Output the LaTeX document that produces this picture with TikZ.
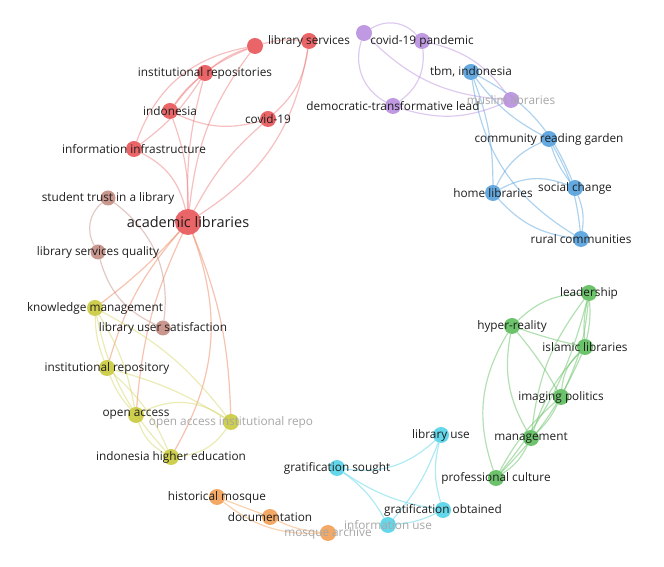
\documentclass[tikz,border=0pt]{standalone}
\usepackage{fontspec}
\setmainfont{Open Sans}
\usetikzlibrary{positioning}
\pgfdeclarelayer{background}
\pgfsetlayers{background,main}

\definecolor{redc}{RGB}{232,88,90}
\definecolor{brownc}{RGB}{196,142,132}
\definecolor{yelc}{RGB}{202,202,64}
\definecolor{purc}{RGB}{186,144,222}
\definecolor{bluec}{RGB}{88,162,222}
\definecolor{greenc}{RGB}{96,190,96}
\definecolor{cyanc}{RGB}{88,212,232}
\definecolor{orac}{RGB}{242,162,88}
\definecolor{txt}{RGB}{30,30,30}

\tikzset{
  vnode/.style={circle, inner sep=0pt, minimum size=16pt, fill opacity=0.92, text opacity=1},
  lbl/.style={font=\fontsize{11.8}{13}\selectfont, text=txt, inner sep=0pt},
  dim/.style={lbl, text=black!35},
  redn/.style={vnode, fill=redc},
  brownn/.style={vnode, fill=brownc},
  yeln/.style={vnode, fill=yelc},
  purn/.style={vnode, fill=purc},
  bluen/.style={vnode, fill=bluec},
  greenn/.style={vnode, fill=greenc},
  cyann/.style={vnode, fill=cyanc},
  oran/.style={vnode, fill=orac},
  link/.style={line width=1.2pt, draw opacity=0.48},
  redl/.style={link, draw=redc!80},
  brownl/.style={link, draw=brownc},
  yell/.style={link, draw=yelc!80},
  mixl/.style={link, draw=redc!45!orac},
  purl/.style={link, draw=purc},
  bluel/.style={link, draw=bluec},
  greenl/.style={link, draw=greenc},
  cyanl/.style={link, draw=cyanc},
  oral/.style={link, draw=orac}
}

\begin{document}
\begin{tikzpicture}[x=1pt, y=1pt]
\useasboundingbox (0,0) rectangle (664,567);

% red cluster
\node[redn, minimum size=26pt, label={[lbl, font=\fontsize{14.5}{16}\selectfont]center:academic libraries}] (acad) at (188,345) {};
\node[redn] (repnode) at (255,521) {};
\node[redn, label={[lbl]center:library services}] (libserv) at (309,526) {};
\node[redn, label={[lbl]center:institutional repositories}] (instrep) at (205,494) {};
\node[redn, label={[lbl]center:indonesia}] (indo) at (170,456) {};
\node[redn, label={[lbl]center:covid-19}] (covid) at (268,448) {};
\node[redn, label={[lbl]center:information infrastructure}] (infra) at (134,418) {};

% brown cluster
\node[brownn, minimum size=15pt, label={[lbl]center:student trust in a library}] (trust) at (108,369) {};
\node[brownn, minimum size=15pt, label={[lbl]center:library services quality}] (quality) at (98,315) {};
\node[brownn, minimum size=15pt, label={[lbl]center:library user satisfaction}] (satisf) at (163,239) {};

% yellow cluster
\node[yeln, label={[lbl]center:knowledge management}] (km) at (95,259) {};
\node[yeln, label={[lbl]center:institutional repository}] (irepo) at (107,199) {};
\node[yeln, label={[lbl]center:open access}] (oa) at (136,152) {};
\node[yeln, label={[dim]center:open access institutional repo}] (oair) at (231,145) {};
\node[yeln, label={[lbl]center:indonesia higher education}] (ihe) at (171,110) {};

% purple cluster
\node[purn] (pandnode) at (364,534) {};
\node[purn, label={[lbl]center:covid-19 pandemic}] (pandemic) at (422,526) {};
\node[purn, label={[lbl]center:democratic-transformative lead}] (democ) at (393,461) {};
\node[purn, label={[dim]center:muslim libraries}] (muslim) at (511,467) {};

% blue cluster
\node[bluen, label={[lbl]center:tbm, indonesia}] (tbm) at (471,495) {};
\node[bluen, label={[lbl]center:community reading garden}] (crg) at (549,428) {};
\node[bluen, label={[lbl]center:home libraries}] (home) at (493,374) {};
\node[bluen, label={[lbl]center:social change}] (social) at (575,379) {};
\node[bluen, label={[lbl]center:rural communities}] (rural) at (581,328) {};

% green cluster
\node[greenn, label={[lbl]center:leadership}] (lead) at (589,274) {};
\node[greenn, label={[lbl]center:hyper-reality}] (hyper) at (512,241) {};
\node[greenn, label={[lbl]center:islamic libraries}] (islamic) at (585,220) {};
\node[greenn, label={[lbl]center:imaging politics}] (imaging) at (561,170) {};
\node[greenn, label={[lbl]center:management}] (mgmt) at (531,129) {};
\node[greenn, label={[lbl]center:professional culture}] (prof) at (496,89) {};

% cyan cluster
\node[cyann, label={[lbl]center:library use}] (libuse) at (441,132) {};
\node[cyann, label={[lbl]center:gratification sought}] (sought) at (337,99) {};
\node[cyann, label={[lbl]center:gratification obtained}] (obtained) at (443,57) {};
\node[cyann, label={[dim]center:information use}] (infouse) at (388,42) {};

% orange cluster
\node[oran, label={[lbl]center:historical mosque}] (mosque) at (217,70) {};
\node[oran, label={[lbl]center:documentation}] (doc) at (270,50) {};
\node[oran, label={[dim]center:mosque archive}] (archive) at (328,34) {};

\begin{pgfonlayer}{background}
% red links
\draw[redl] (acad) to[bend right=24] (libserv);
\draw[redl] (acad) to[bend right=25] (infra);
\draw[redl] (repnode) to[bend right=30] (infra);
\draw[redl] (acad) to[bend left=15] (repnode);
\draw[redl] (acad) to[bend left=8] (instrep);
\draw[redl] (acad) to[bend right=10] (indo);
\draw[redl] (acad) to[bend left=10] (covid);
\draw[redl] (repnode) to[bend right=10] (instrep);
\draw[redl] (repnode) to[bend right=15] (indo);
\draw[redl] (repnode) to[bend left=10] (libserv);
\draw[redl] (instrep) to[bend left=10] (infra);
\draw[redl] (indo) to[bend right=20] (covid);
\draw[redl] (libserv) to[bend left=20] (covid);
\draw[redl] (instrep) to[bend right=8] (indo);
% links leaving academic libraries
\draw[mixl] (acad) to[bend left=5] (km);
\draw[mixl] (acad) to[bend right=10] (oa);
\draw[mixl] (acad) to[bend left=25] (ihe);
\draw[mixl] (acad) to[bend left=10] (oair);
\draw[mixl] (acad) to[bend right=12] (irepo);
% brown links
\draw[brownl] (trust) to[bend right=40] (quality);
\draw[brownl] (trust) to[bend left=30] (satisf);
\draw[brownl] (quality) to[bend right=25] (satisf);
% yellow links
\draw[yell] (km) to[bend right=10] (irepo);
\draw[yell] (km) to[bend left=10] (oa);
\draw[yell] (km) to[bend right=15] (ihe);
\draw[yell] (km) to[bend left=12] (oair);
\draw[yell] (irepo) to[bend right=10] (oa);
\draw[yell] (irepo) to[bend left=12] (ihe);
\draw[yell] (irepo) to[bend left=8] (oair);
\draw[yell] (oa) to[bend left=30] (oair);
\draw[yell] (oa) to[bend right=20] (ihe);
\draw[yell] (ihe) to[bend right=25] (oair);
% purple links
\draw[purl] (pandnode) to[bend left=40] (pandemic);
\draw[purl] (pandnode) to[bend right=40] (democ);
\draw[purl] (pandemic) to[bend left=30] (democ);
\draw[purl] (pandnode) to[bend right=20] (muslim);
\draw[purl] (pandemic) to[bend left=20] (muslim);
\draw[purl] (democ) to[bend right=20] (muslim);
% blue links
\draw[bluel] (tbm) to[bend right=12] (crg);
\draw[bluel] (tbm) to[bend left=10] (home);
\draw[bluel] (tbm) to[bend left=20] (social);
\draw[bluel] (tbm) to[bend right=25] (rural);
\draw[bluel] (crg) to[bend right=20] (home);
\draw[bluel] (crg) to[bend right=10] (social);
\draw[bluel] (crg) to[bend left=12] (rural);
\draw[bluel] (home) to[bend left=25] (social);
\draw[bluel] (home) to[bend right=20] (rural);
\draw[bluel] (social) to[bend left=15] (rural);
% green links
\draw[greenl] (lead) to[bend right=20] (hyper);
\draw[greenl] (lead) to[bend right=8] (islamic);
\draw[greenl] (lead) to[bend left=8] (islamic);
\draw[greenl] (lead) to[bend left=10] (imaging);
\draw[greenl] (lead) to[bend right=15] (mgmt);
\draw[greenl] (lead) to[bend left=12] (prof);
\draw[greenl] (hyper) to[bend right=3] (islamic);
\draw[greenl] (hyper) to[bend left=5] (imaging);
\draw[greenl] (hyper) to[bend right=20] (mgmt);
\draw[greenl] (hyper) to[bend right=25] (prof);
\draw[greenl] (islamic) to[bend right=20] (imaging);
\draw[greenl] (islamic) to[bend right=12] (mgmt);
\draw[greenl] (islamic) to[bend left=10] (prof);
\draw[greenl] (imaging) to[bend left=10] (mgmt);
\draw[greenl] (imaging) to[bend right=10] (prof);
\draw[greenl] (mgmt) to[bend left=15] (prof);
% cyan links
\draw[cyanl] (sought) to[bend right=25] (libuse);
\draw[cyanl] (libuse) to[bend right=15] (obtained);
\draw[cyanl] (libuse) to[bend left=10] (infouse);
\draw[cyanl] (sought) to[bend right=12] (obtained);
\draw[cyanl] (sought) to[bend left=12] (infouse);
\draw[cyanl] (infouse) to[bend right=10] (obtained);
% orange links
\draw[oral] (mosque) to[bend right=20] (archive);
\draw[oral] (doc) to[bend right=10] (archive);
\draw[oral] (mosque) to (doc);
\end{pgfonlayer}
\end{tikzpicture}
\end{document}
